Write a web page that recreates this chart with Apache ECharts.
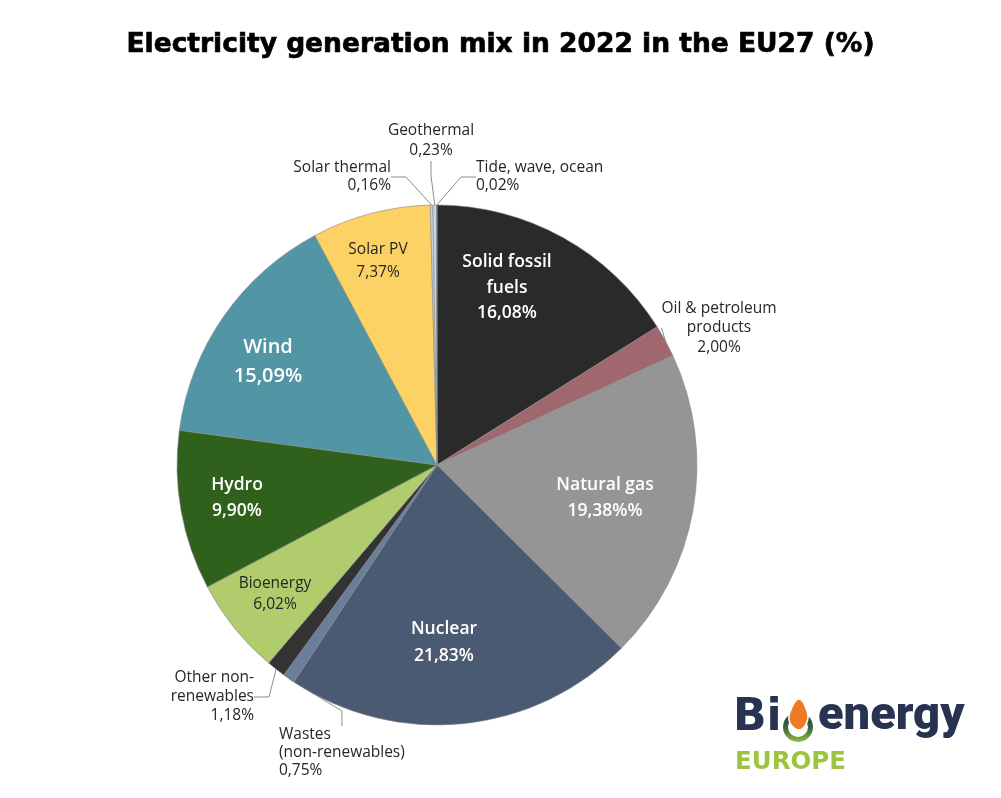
<!DOCTYPE html>
<html>
<head>
<meta charset="utf-8">
<script src="https://cdn.jsdelivr.net/npm/echarts@6/dist/echarts.min.js"></script>
<style>
html,body{margin:0;padding:0;background:#fff;}
#chart{width:1001px;height:798px;}
</style>
</head>
<body>
<div id="chart"></div>
<script>
// ---- data ----
const categories = ['Solid fossil fuels', 'Oil & petroleum products', 'Natural gas', 'Nuclear',
  'Wastes (non-renewables)', 'Other non-renewables', 'Bioenergy', 'Hydro', 'Wind', 'Solar PV',
  'Solar thermal', 'Geothermal', 'Tide, wave, ocean'];
const shares = [16.08, 2.00, 19.38, 21.83, 0.75, 1.18, 6.02, 9.90, 15.09, 7.37, 0.16, 0.23, 0.02];
const labelNames = ['Solid fossil\nfuels', 'Oil & petroleum\nproducts', 'Natural gas', 'Nuclear',
  'Wastes\n(non-renewables)', 'Other non-\nrenewables', 'Bioenergy', 'Hydro', 'Wind', 'Solar PV',
  'Solar thermal', 'Geothermal', 'Tide, wave, ocean'];
const valueLabels = ['16,08%', '2,00%', '19,38%%', '21,83%', '0,75%', '1,18%', '6,02%', '9,90%',
  '15,09%', '7,37%', '0,16%', '0,23%', '0,02%'];

// ---- styles ----
const colors = ['#292a29', '#a0676f', '#959595', '#4b5a73', '#687e9b', '#333333', '#b0cc6c',
  '#2f611c', '#5296a5', '#fdd264', '#d0d0d0', '#b7dcef', '#4a6b8c'];
const inside = [true, false, true, true, false, false, true, true, true, true, false, false, false];
// label anchor [x, y, align, fontSize, weight, lineHeight]
const labelPlace = [
  [507, 288, 'center', 17.5, 600, 25.5],
  [719, 328, 'center', 15.5, 400, 19.5],
  [605, 498, 'center', 17.5, 600, 26],
  [444, 643, 'center', 17.5, 600, 27],
  [279, 753, 'left', 15.5, 400, 18],
  [254, 697, 'right', 15.5, 400, 19],
  [275, 594, 'center', 15.5, 400, 21],
  [237, 498, 'center', 17.5, 600, 26],
  [268, 362, 'center', 20, 600, 29],
  [378, 261, 'center', 15.5, 400, 23],
  [391, 177, 'right', 15.5, 400, 18],
  [431, 141, 'center', 15.5, 400, 20],
  [476, 177, 'left', 15.5, 400, 18]
];
const lightText = [true, false, true, true, false, false, false, true, true, false, false, false, false];

const chart = echarts.init(document.getElementById('chart'), null, {renderer: 'canvas'});

const data = categories.map((c, i) => ({
  name: c,
  value: shares[i],
  itemStyle: {color: colors[i]},
  label: {
    position: inside[i] ? 'inside' : 'outside',
    formatter: labelNames[i] + '\n' + valueLabels[i],
    color: lightText[i] ? '#ffffff' : '#262626',
    fontSize: labelPlace[i][3],
    fontWeight: labelPlace[i][4],
    lineHeight: labelPlace[i][5],
    align: labelPlace[i][2]
  },
  labelLine: {show: !inside[i]}
}));

chart.setOption({
  animation: false,
  title: {
    text: 'Electricity generation mix in 2022 in the EU27 (%)',
    left: 'center',
    top: 27,
    textStyle: {fontFamily: 'DejaVu Sans', fontWeight: 'bold', fontSize: 26.5, color: '#000',
      textBorderColor: '#000', textBorderWidth: 0.7}
  },
  series: [{
    type: 'pie',
    center: [437, 465],
    radius: [0, 260],
    startAngle: 90,
    clockwise: true,
    avoidLabelOverlap: false,
    minShowLabelAngle: 0,
    itemStyle: {borderColor: '#8a8a8a', borderWidth: 0.6},
    label: {show: true, fontFamily: 'Open Sans'},
    labelLine: {show: true, lineStyle: {color: '#8c8c8c', width: 1}, length: 12, length2: 15},
    labelLayout: function (p) {
      const lp = labelPlace[p.dataIndex];
      return {x: lp[0], y: lp[1], align: lp[2], verticalAlign: 'middle'};
    },
    emphasis: {disabled: true},
    data: data
  }],
  graphic: [
    {type: 'text', x: 733, y: 697, style: {text: 'Bi', font: 'bold 44px "DejaVu Sans"', fill: '#283352'}},
    {type: 'circle', shape: {cx: 798, cy: 727, r: 12.5}, style: {fill: 'none', stroke: new echarts.graphic.LinearGradient(0, 0, 0, 1, [{offset: 0, color: '#283352'}, {offset: 0.55, color: '#3d6a3a'}, {offset: 1, color: '#8fbf3a'}]), lineWidth: 5}},
    {type: 'polygon', shape: {points: [[799, 699], [807, 711], [807, 722], [799, 730], [790, 723], [790, 712]], smooth: 0.4}, style: {fill: '#ee7a22', stroke: '#fff', lineWidth: 1.5}},
    {type: 'text', x: 818, y: 694, style: {text: 'energy', font: '900 47px Roboto', fill: '#283352'}},
    {type: 'text', x: 735, y: 750, style: {text: 'EUROPE', font: 'bold 24.5px "DejaVu Sans"', fill: '#9cc53d'}}
  ]
});
</script>
</body>
</html>
